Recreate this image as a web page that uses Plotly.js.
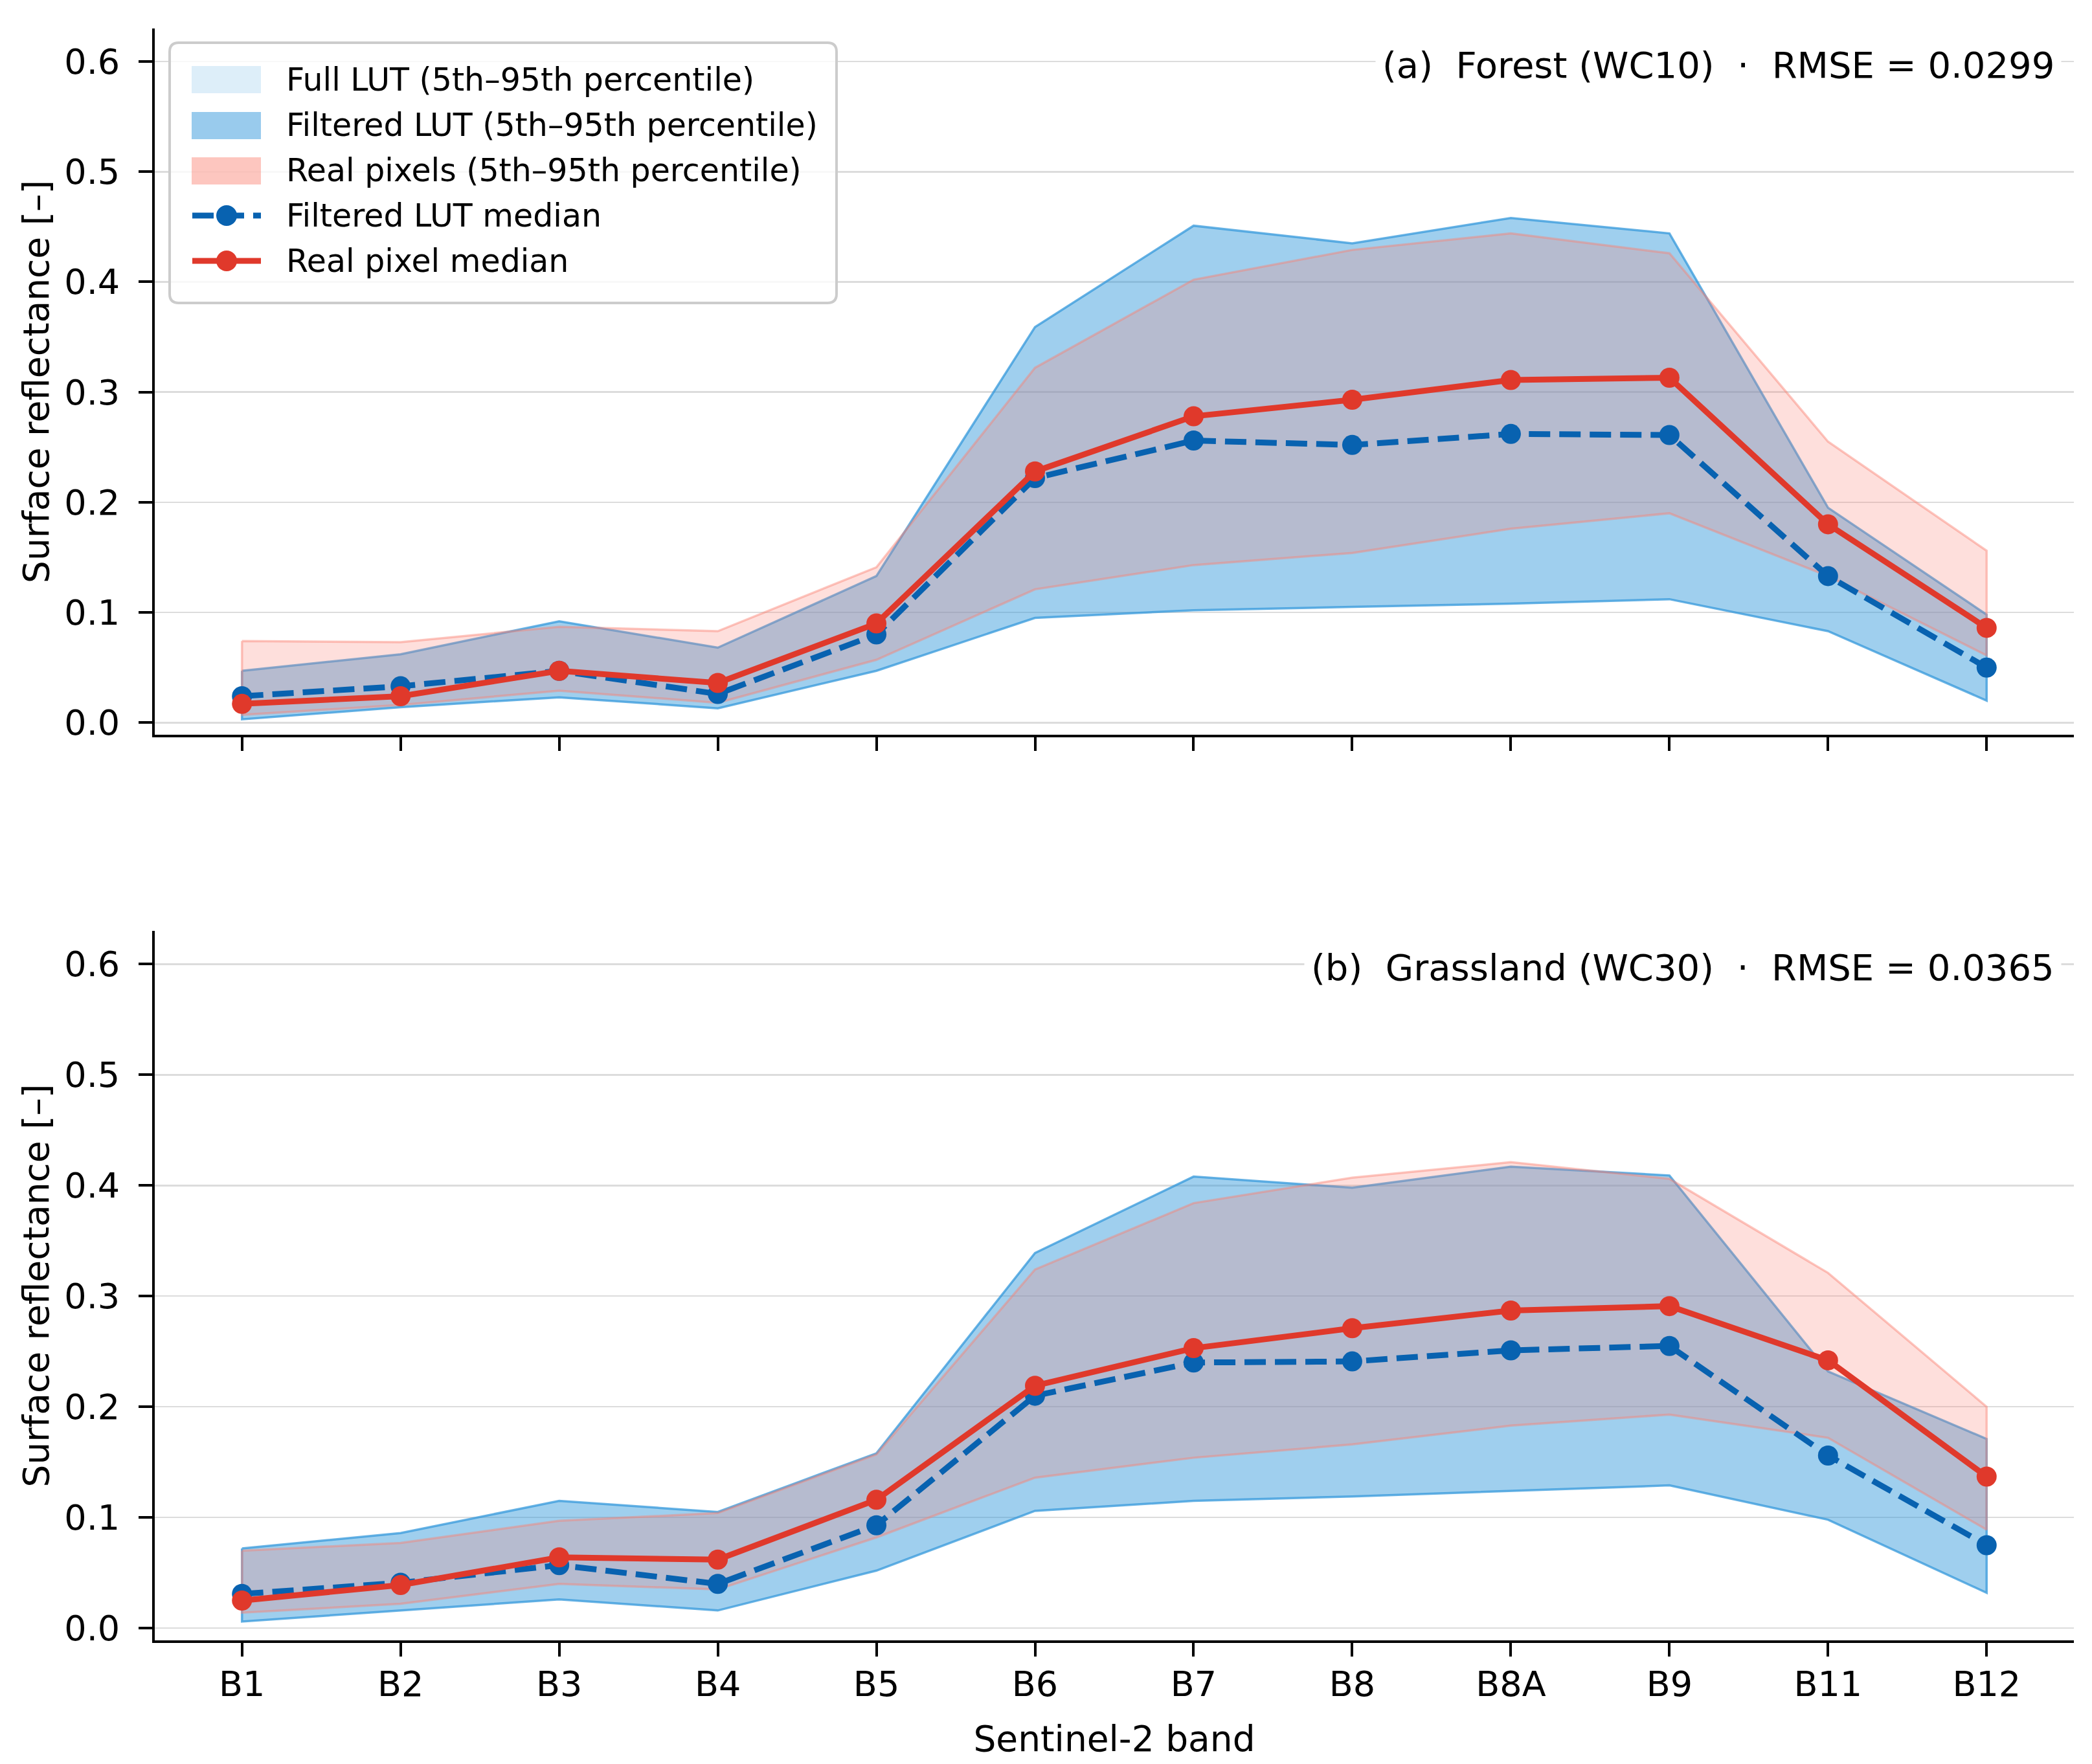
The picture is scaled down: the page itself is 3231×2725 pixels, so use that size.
<!DOCTYPE html>
<html>
<head>
<meta charset="utf-8">
<script src="https://cdn.plot.ly/plotly-3.0.1.min.js"></script>
<style>html,body{margin:0;padding:0;background:#fff;}</style>
</head>
<body>
<div id="chart" style="width:3231px;height:2725px;"></div>
<script>
// ---------------- data ----------------
const BANDS = ['B1','B2','B3','B4','B5','B6','B7','B8','B8A','B9','B11','B12'];

// (a) Forest (WC10)
const forestLutMedian  = [0.024, 0.033, 0.047, 0.026, 0.080, 0.222, 0.256, 0.252, 0.262, 0.261, 0.133, 0.050];
const forestRealMedian = [0.017, 0.024, 0.047, 0.036, 0.090, 0.228, 0.278, 0.293, 0.311, 0.313, 0.180, 0.086];
const forestLutP5      = [0.003, 0.014, 0.023, 0.013, 0.047, 0.095, 0.102, 0.105, 0.108, 0.112, 0.083, 0.020];
const forestLutP95     = [0.047, 0.062, 0.092, 0.068, 0.133, 0.359, 0.451, 0.435, 0.458, 0.444, 0.195, 0.098];
const forestRealP5     = [0.007, 0.016, 0.029, 0.018, 0.057, 0.121, 0.143, 0.154, 0.176, 0.190, 0.133, 0.061];
const forestRealP95    = [0.074, 0.073, 0.087, 0.083, 0.141, 0.322, 0.402, 0.429, 0.444, 0.426, 0.255, 0.156];

// (b) Grassland (WC30)
const grassLutMedian  = [0.031, 0.041, 0.057, 0.040, 0.093, 0.210, 0.240, 0.241, 0.251, 0.255, 0.156, 0.075];
const grassRealMedian = [0.025, 0.039, 0.064, 0.062, 0.116, 0.219, 0.253, 0.271, 0.287, 0.291, 0.242, 0.137];
const grassLutP5      = [0.006, 0.016, 0.026, 0.016, 0.052, 0.106, 0.115, 0.119, 0.124, 0.129, 0.098, 0.032];
const grassLutP95     = [0.072, 0.086, 0.115, 0.105, 0.158, 0.339, 0.408, 0.398, 0.417, 0.409, 0.232, 0.171];
const grassRealP5     = [0.014, 0.022, 0.040, 0.035, 0.082, 0.136, 0.154, 0.166, 0.183, 0.193, 0.172, 0.089];
const grassRealP95    = [0.070, 0.077, 0.097, 0.104, 0.157, 0.324, 0.384, 0.407, 0.421, 0.406, 0.321, 0.200];

const PANEL_LABELS = [
  '(a)\u00a0 Forest (WC10)\u00a0 \u00b7\u00a0 RMSE = 0.0299',
  '(b)\u00a0 Grassland (WC30)\u00a0 \u00b7\u00a0 RMSE = 0.0365'
];
const LEGEND_LABELS = [
  'Full LUT (5th\u201395th percentile)',
  'Filtered LUT (5th\u201395th percentile)',
  'Real pixels (5th\u201395th percentile)',
  'Filtered LUT median',
  'Real pixel median'
];
const Y_TICKS = [0, 0.1, 0.2, 0.3, 0.4, 0.5, 0.6];
const Y_TITLE = 'Surface reflectance [\u2013]';
const X_TITLE = 'Sentinel-2 band';

// ---------------- styles ----------------
const FONT = 'DejaVu Sans';
const BLUE = '#0862b0';
const RED = '#e0392b';
const BLUE_FILL = 'rgba(52,152,219,0.47)';
const BLUE_EDGE = 'rgba(52,152,219,0.75)';
const PINK_FILL = 'rgba(250,128,114,0.25)';
const PINK_EDGE = 'rgba(250,128,114,0.45)';
const FULL_FILL_LEG = 'rgba(52,152,219,0.17)';
const BLUE_FILL_LEG = 'rgba(52,152,219,0.50)';
const PINK_FILL_LEG = 'rgba(250,128,114,0.45)';

const W = 3231, H = 2725;
const px = v => v / W;
const py = v => 1 - v / H;

function band(lo, hi, fill, edge, xa, ya) {
  const xs = BANDS.concat(BANDS.slice().reverse());
  const ys = hi.concat(lo.slice().reverse());
  xs.push(BANDS[0]); ys.push(hi[0]);
  return {x: xs, y: ys, type: 'scatter', mode: 'lines', fill: 'toself',
          fillcolor: fill, line: {color: edge, width: 3.5}, hoverinfo: 'skip',
          showlegend: false, xaxis: xa, yaxis: ya};
}
function median(vals, color, dash, xa, ya) {
  return {x: BANDS, y: vals, type: 'scatter', mode: 'lines+markers',
          line: {color: color, width: 9, dash: dash},
          marker: {size: 31, color: color}, showlegend: false, xaxis: xa, yaxis: ya};
}

const traces = [
  band(forestLutP5, forestLutP95, BLUE_FILL, BLUE_EDGE, 'x', 'y'),
  band(forestRealP5, forestRealP95, PINK_FILL, PINK_EDGE, 'x', 'y'),
  median(forestLutMedian, BLUE, '33px,14px', 'x', 'y'),
  median(forestRealMedian, RED, 'solid', 'x', 'y'),
  band(grassLutP5, grassLutP95, BLUE_FILL, BLUE_EDGE, 'x2', 'y2'),
  band(grassRealP5, grassRealP95, PINK_FILL, PINK_EDGE, 'x2', 'y2'),
  median(grassLutMedian, BLUE, '33px,14px', 'x2', 'y2'),
  median(grassRealMedian, RED, 'solid', 'x2', 'y2')
];

const tickFont = {family: FONT, size: 54, color: '#000'};
function xAxis(anchor, showLabels) {
  const a = {
    domain: [px(239), px(3203)], anchor: anchor, type: 'category',
    categoryorder: 'array', categoryarray: BANDS, range: [-0.55, 11.55],
    showgrid: false, zeroline: false, showline: true, linecolor: '#000', linewidth: 4,
    ticks: 'outside', ticklen: 21, tickwidth: 4, tickcolor: '#000',
    showticklabels: showLabels, tickfont: tickFont, ticklabelstandoff: -4,
    automargin: true
  };
  if (showLabels) a.title = {text: X_TITLE, font: {family: FONT, size: 55, color: '#000'}, standoff: 36};
  return a;
}
function yAxis(anchor, dom) {
  return {
    domain: dom, anchor: anchor, range: [-0.011, 0.63],
    tickvals: Y_TICKS, tickformat: '.1f',
    showgrid: true, gridcolor: '#dcdcdc', gridwidth: 2.5, zeroline: false,
    showline: true, linecolor: '#000', linewidth: 4,
    ticks: 'outside', ticklen: 21, tickwidth: 4, tickcolor: '#000',
    tickfont: tickFont, ticklabelstandoff: 18, automargin: true,
    title: {text: Y_TITLE, font: {family: FONT, size: 55, color: '#000'}, standoff: 7}
  };
}

// ---------------- legend (drawn as decoration) ----------------
const shapes = [];
const annotations = [];
(function buildLegend() {
  const L = 262, T = 66, R = 1292, B = 468, r = 14;
  const p = (x, y) => px(x) + ',' + py(y);
  const path = 'M' + p(L + r, T) + ' L' + p(R - r, T) + ' Q' + p(R, T) + ' ' + p(R, T + r) +
    ' L' + p(R, B - r) + ' Q' + p(R, B) + ' ' + p(R - r, B) +
    ' L' + p(L + r, B) + ' Q' + p(L, B) + ' ' + p(L, B - r) +
    ' L' + p(L, T + r) + ' Q' + p(L, T) + ' ' + p(L + r, T) + ' Z';
  shapes.push({type: 'path', xref: 'paper', yref: 'paper', path: path,
               fillcolor: 'rgba(255,255,255,0.8)', line: {color: '#cccccc', width: 4}, layer: 'above'});
  const rows = [123, 194, 264, 333, 403];
  const patchFills = [FULL_FILL_LEG, BLUE_FILL_LEG, PINK_FILL_LEG];
  patchFills.forEach((f, i) => {
    shapes.push({type: 'rect', xref: 'paper', yref: 'paper', x0: px(296), x1: px(403),
                 y0: py(rows[i] + 21), y1: py(rows[i] - 21), fillcolor: f, line: {width: 0}, layer: 'above'});
  });
  [[BLUE, '33px,14px', rows[3]], [RED, 'solid', rows[4]]].forEach(([c, d, yy]) => {
    shapes.push({type: 'line', xref: 'paper', yref: 'paper', x0: px(297), x1: px(403),
                 y0: py(yy), y1: py(yy), line: {color: c, width: 9, dash: d}, layer: 'above'});
    shapes.push({type: 'circle', xref: 'paper', yref: 'paper', x0: px(334), x1: px(366),
                 y0: py(yy + 16), y1: py(yy - 16), fillcolor: c, line: {width: 0}, layer: 'above'});
  });
  LEGEND_LABELS.forEach((t, i) => {
    annotations.push({text: t, xref: 'paper', yref: 'paper', x: px(440), y: py(rows[i]),
                      xanchor: 'left', yanchor: 'middle', showarrow: false,
                      font: {family: FONT, size: 49, color: '#000'}});
  });
})();

// panel labels
[['x', 'y'], ['x2', 'y2']].forEach(([xa, ya], i) => {
  annotations.push({text: PANEL_LABELS[i], xref: xa + ' domain', yref: ya, x: 0.9937, y: 0.597,
                    xanchor: 'right', yanchor: 'middle', showarrow: false,
                    bgcolor: '#ffffff', borderpad: 10,
                    font: {family: FONT, size: 56, color: '#000'}});
});

const layout = {
  width: W, height: H,
  paper_bgcolor: '#fff', plot_bgcolor: '#fff',
  margin: {l: 0, r: 0, t: 0, b: 0, autoexpand: false},
  showlegend: false,
  font: {family: FONT, color: '#000'},
  xaxis: xAxis('y', false),
  yaxis: yAxis('x', [py(1135), py(44)]),
  xaxis2: xAxis('y2', true),
  yaxis2: yAxis('x2', [py(2534), py(1438)]),
  shapes: shapes,
  annotations: annotations
};

Plotly.newPlot('chart', traces, layout, {displayModeBar: false, staticPlot: true});
</script>
</body>
</html>
